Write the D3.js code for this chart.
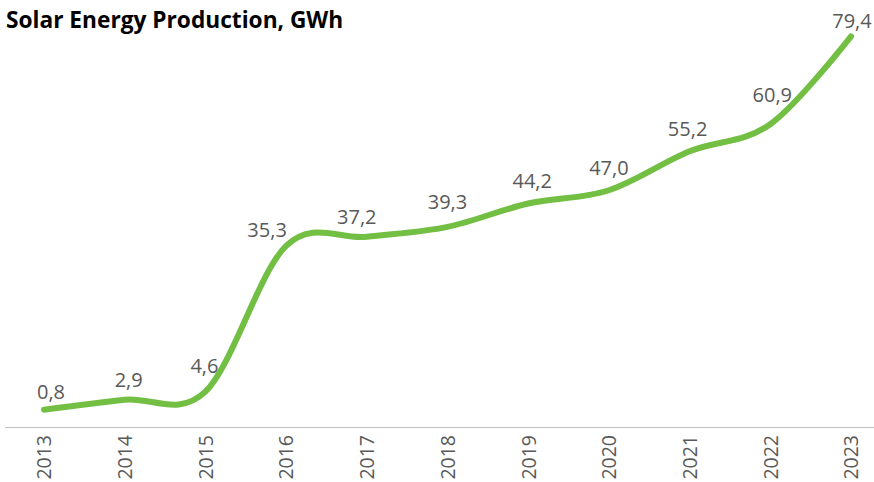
<!DOCTYPE html>
<html>
<head>
<meta charset="utf-8">
<script src="https://cdn.jsdelivr.net/npm/d3@7"></script>
<style>
  html, body { margin: 0; padding: 0; background: #fff; }
  svg { display: block; font-family: "Open Sans", sans-serif; }
</style>
</head>
<body>
<svg id="chart" width="874" height="482"></svg>
<script>
const years = ["2013","2014","2015","2016","2017","2018","2019","2020","2021","2022","2023"];
const production = [0.8, 2.9, 4.6, 35.3, 37.2, 39.3, 44.2, 47.0, 55.2, 60.9, 79.4];
const titleText = "Solar Energy Production, GWh";

// label placement tweaks (layout only, offsets from each point)
const labelDx = [7, 4, -1, -19, -10, 0, 4, 0, -2, 2, 1];
const labelDy = [-11, -13, -19, -9, -13, -18, -16, -15, -15, -22, -8];

const svg = d3.select("#chart");
const W = 874, H = 482;

const x = d3.scalePoint().domain(years).range([44, 851]);
const y = d3.scaleLinear().domain([0, 80]).range([413.5, 33.5]);

// title
svg.append("text")
  .attr("x", 6).attr("y", 28)
  .attr("font-size", 22.7).attr("font-weight", "bold")
  .attr("fill", "#000")
  .text(titleText);

// x axis
const axisY = 427;
const xAxis = d3.axisBottom(x).tickSize(0).tickPadding(0);
const gx = svg.append("g").attr("transform", `translate(0,${axisY})`).call(xAxis);
gx.select(".domain").remove();
svg.append("line")
  .attr("x1", 5).attr("x2", W).attr("y1", axisY + 0.5).attr("y2", axisY + 0.5)
  .attr("stroke", "#bfbfbf").attr("stroke-width", 1);
gx.selectAll(".tick text")
  .attr("font-family", "'Open Sans', sans-serif")
  .attr("font-size", 19.5)
  .attr("fill", "#595959")
  .attr("text-anchor", "end")
  .attr("transform", "rotate(-90)")
  .attr("x", -8)
  .attr("y", 0)
  .attr("dy", "0.35em");

// line
const line = d3.line()
  .x((d, i) => x(years[i]))
  .y(d => y(d))
  .curve(d3.curveCardinal.tension(0));

svg.append("path")
  .datum(production)
  .attr("d", line)
  .attr("fill", "none")
  .attr("stroke", "#72bf44")
  .attr("stroke-width", 6)
  .attr("stroke-linecap", "round")
  .attr("stroke-linejoin", "round");

// data labels
const fmt = v => d3.format(".1f")(v).replace(".", ",");
svg.append("g").selectAll("text")
  .data(production)
  .join("text")
  .attr("x", (d, i) => x(years[i]) + labelDx[i])
  .attr("y", (d, i) => y(d) + labelDy[i])
  .attr("text-anchor", "middle")
  .attr("font-size", 20)
  .attr("fill", "#595959")
  .text(d => fmt(d));
</script>
</body>
</html>
